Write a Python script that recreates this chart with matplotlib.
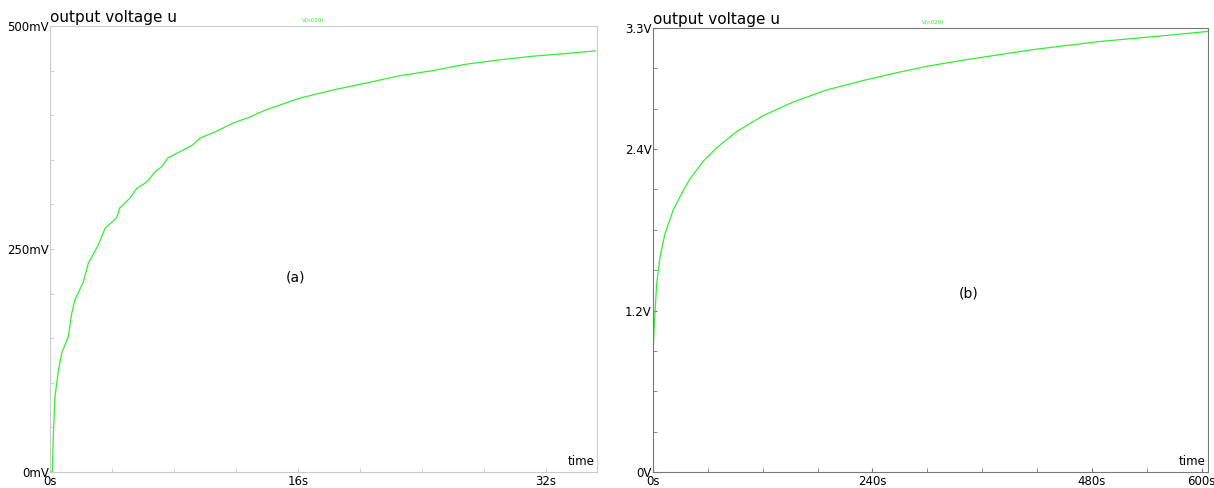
import matplotlib.pyplot as plt
from matplotlib.ticker import MultipleLocator, FixedLocator

# (a) output voltage over the first 35 s, in mV
t_a = [0.0, 0.15, 0.21, 0.32, 0.54, 0.75, 1.18, 1.4, 1.61, 2.15, 2.47, 3.1, 3.55,
       4.3, 4.5, 5.16, 5.6, 6.24, 6.8, 7.2, 7.6, 8.6, 9.25, 9.65, 10.75, 11.8,
       12.9, 13.94, 16.1, 18.2, 20.4, 22.5, 24.7, 26.8, 29.0, 31.1, 33.2, 35.2]
u_a = [0, 0, 40, 84, 114, 133, 152, 178, 193, 213, 234, 254, 273,
       285, 296, 307, 318, 325, 337, 342, 352, 361, 367, 374, 382, 391,
       398, 406, 419, 428, 436, 444, 450, 457, 462, 466, 469, 472]

# (b) output voltage over 600 s, in V
t_b = [0, 0, 0.5, 1.2, 2.2, 4, 7.7, 13.1, 22.2, 33, 40.5, 55, 69.6, 91.5, 120.7,
       153.5, 190, 230, 268, 299, 343, 416, 489, 562, 607]
u_b = [0, 0.80, 0.95, 1.08, 1.18, 1.40, 1.60, 1.77, 1.95, 2.09, 2.18, 2.31, 2.41,
       2.53, 2.65, 2.75, 2.84, 2.91, 2.97, 3.015, 3.065, 3.14, 3.20, 3.245, 3.275]

green = "#33ee33"
fig = plt.figure(figsize=(12.14, 4.88), dpi=100)


def style(ax, edge):
    for s in ax.spines.values():
        s.set_color(edge)
        s.set_linewidth(0.8)
    ax.tick_params(which="both", direction="in", color=edge, labelsize=8.5, pad=1)
    ax.tick_params(axis="x", which="both", pad=2.5)
    ax.tick_params(which="major", length=3)
    ax.tick_params(which="minor", length=3)
    ax.text(0.995, 0.008, "time", transform=ax.transAxes, ha="right", va="bottom", fontsize=8.5)


ax1 = fig.add_axes([0.0412, 0.0328, 0.4506, 0.914])
ax1.plot(t_a, u_a, color=green, lw=0.9)
ax1.set_xlim(0, 35.3)
ax1.set_ylim(0, 500)
ax1.xaxis.set_major_locator(FixedLocator([0, 16, 32]))
ax1.xaxis.set_minor_locator(MultipleLocator(4))
ax1.yaxis.set_major_locator(FixedLocator([0, 250, 500]))
ax1.yaxis.set_minor_locator(MultipleLocator(50))
ax1.set_xticklabels(["0s", "16s", "32s"])
ax1.set_yticklabels(["0mV", "250mV", "500mV"])
style(ax1, "#cccccc")
ax1.text(0.0, 1.003, "output voltage u", transform=ax1.transAxes, fontsize=11, va="bottom")
ax1.text(0.482, 1.006, "V(n020)", transform=ax1.transAxes, fontsize=4.5, color=green,
         ha="center", va="bottom", fontstretch="condensed")
ax1.text(0.448, 0.437, "(a)", transform=ax1.transAxes, fontsize=10, ha="center", va="center")

ax2 = fig.add_axes([0.5379, 0.0328, 0.4572, 0.9098])
ax2.plot(t_b, u_b, color=green, lw=0.9)
ax2.set_xlim(0, 607)
ax2.set_ylim(0, 3.3)
ax2.xaxis.set_major_locator(FixedLocator([0, 240, 480, 600]))
ax2.xaxis.set_minor_locator(MultipleLocator(60))
ax2.yaxis.set_major_locator(FixedLocator([0, 1.2, 2.4, 3.3]))
ax2.yaxis.set_minor_locator(MultipleLocator(0.3))
ax2.set_xticklabels(["0s", "240s", "480s", "600s"])
ax2.set_yticklabels(["0V", "1.2V", "2.4V", "3.3V"])
style(ax2, "#777777")
ax2.text(0.0, 1.003, "output voltage u", transform=ax2.transAxes, fontsize=11, va="bottom")
ax2.text(0.504, 1.006, "V(n020)", transform=ax2.transAxes, fontsize=4.5, color=green,
         ha="center", va="bottom", fontstretch="condensed")
ax2.text(0.568, 0.403, "(b)", transform=ax2.transAxes, fontsize=10, ha="center", va="center")

fig.savefig("out.png", dpi=100)
